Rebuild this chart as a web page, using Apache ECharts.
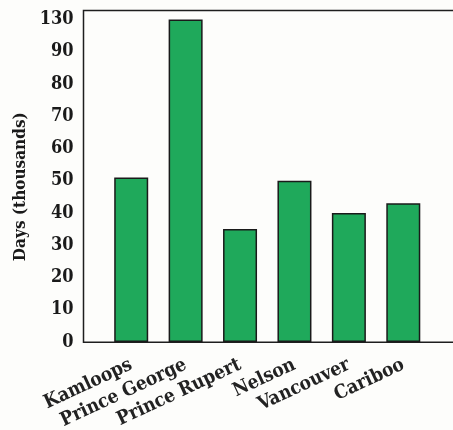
<!DOCTYPE html>
<html>
<head>
<meta charset="utf-8">
<script src="https://cdn.jsdelivr.net/npm/echarts@6/dist/echarts.min.js"></script>
<style>
html,body{margin:0;padding:0;background:#fdfdfb;}
#c{width:453px;height:430px;}
</style>
</head>
<body>
<div id="c"></div>
<script>
// ---- data ----
const categories = ['Kamloops', 'Prince George', 'Prince Rupert', 'Nelson', 'Vancouver', 'Cariboo'];
const values = [51, 130, 35, 50, 40, 43];            // days (thousands)
const tickLabels = ['0', '10', '20', '30', '40', '50', '60', '70', '80', '90', '130']; // broken axis ticks
const yAxisTitle = 'Days (thousands)';

// broken axis: tick i sits at axis unit i*10; values interpolate between tick labels
const tickVals = tickLabels.map(Number);
function toAxis(v) {
  for (let i = 1; i < tickVals.length; i++) {
    if (v <= tickVals[i]) {
      const t = (v - tickVals[i - 1]) / (tickVals[i] - tickVals[i - 1]);
      return (i - 1 + t) * 10;
    }
  }
  return (tickVals.length - 1) * 10;
}
const barData = values.map(v => ({ value: toAxis(v), raw: v }));

const FONT = "'DejaVu Serif Condensed', 'DejaVu Serif', serif";
const chart = echarts.init(document.getElementById('c'), null, { renderer: 'canvas' });
chart.setOption({
  backgroundColor: '#fdfdfb',
  animation: false,
  grid: [
    { left: 104, right: 22.5, top: 19.4, bottom: 88, show: false, outerBoundsMode: 'none', containLabel: false },
    { left: 83.5, right: -10, top: 10.5, bottom: 87.7, show: true, borderColor: '#1e1e1e', borderWidth: 1.5, backgroundColor: 'transparent', outerBoundsMode: 'none', containLabel: false }
  ],
  xAxis: [
    {
      type: 'category', gridIndex: 0, data: categories,
      axisLine: { show: false }, axisTick: { show: false },
      axisLabel: { rotate: 25, margin: 22, color: '#222', fontFamily: FONT, fontWeight: 'bold', fontSize: 19, interval: 0 }
    },
    { type: 'value', gridIndex: 1, show: false, min: 0, max: 1 }
  ],
  yAxis: [
    {
      type: 'value', gridIndex: 0, min: 0, max: 100, interval: 10, offset: 20.5,
      axisLine: { show: false }, axisTick: { show: false }, splitLine: { show: false },
      axisLabel: {
        margin: 10, color: '#1a1a1a', fontFamily: FONT, fontWeight: 'bold', fontSize: 18,
        formatter: v => tickLabels[Math.round(v / 10)] || ''
      },
      name: yAxisTitle, nameLocation: 'middle', nameGap: 51,
      nameTextStyle: { color: '#1a1a1a', fontFamily: FONT, fontWeight: 'bold', fontSize: 17, padding: [0, 12, 0, 0] }
    },
    { type: 'value', gridIndex: 1, show: false, min: 0, max: 1 }
  ],
  series: [{
    type: 'bar', xAxisIndex: 0, yAxisIndex: 0, data: barData, barWidth: 34,
    itemStyle: { color: '#1fa95b', borderColor: '#1a1a1a', borderWidth: 1.5 }
  }]
});
</script>
</body>
</html>
